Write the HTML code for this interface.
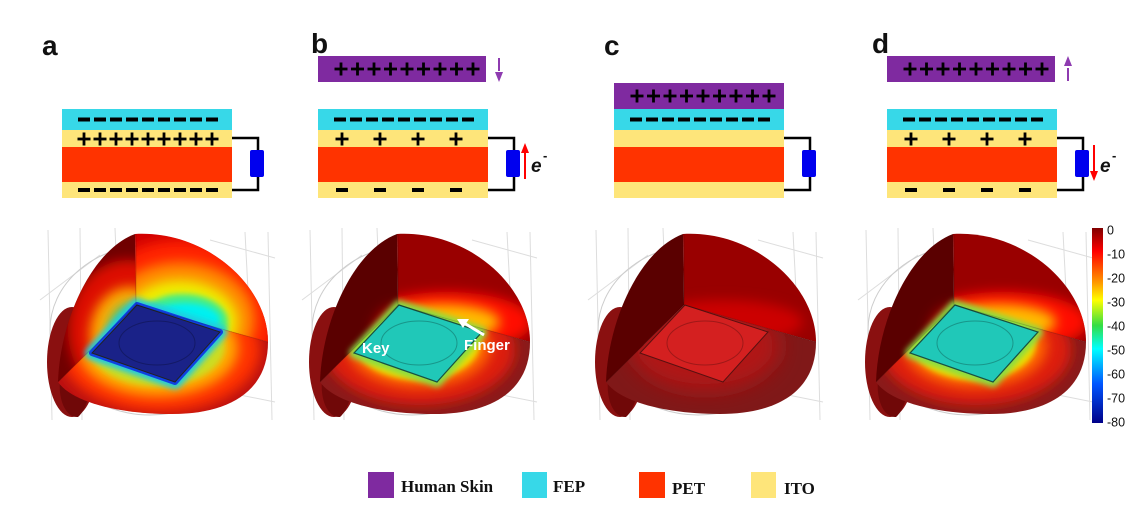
<!DOCTYPE html>
<html><head><meta charset="utf-8">
<style>
html,body{margin:0;padding:0;background:#fff;}
svg{display:block;}
.lbl{font-family:"Liberation Sans",Arial,sans-serif;font-weight:bold;font-size:28px;fill:#111;}
.leg{font-family:"Liberation Serif",serif;font-weight:bold;font-size:17px;fill:#111;}
.cb{font-family:"Liberation Sans",sans-serif;font-size:12.5px;fill:#111;}
</style></head>
<body>
<svg id="fig" width="1147" height="515" viewBox="0 0 1147 515" xmlns="http://www.w3.org/2000/svg">
<defs>
  <filter id="b3" x="-50%" y="-50%" width="200%" height="200%"><feGaussianBlur stdDeviation="3"/></filter>
  <filter id="b6" x="-50%" y="-50%" width="200%" height="200%"><feGaussianBlur stdDeviation="6"/></filter>
  <filter id="b10" x="-50%" y="-50%" width="200%" height="200%"><feGaussianBlur stdDeviation="10"/></filter>
  <clipPath id="cpLeft" clipPathUnits="userSpaceOnUse"><path d="M135,234 L136,305 L58,382 C60,320 92,250 135,234 Z"/></clipPath>
  <clipPath id="cpRight" clipPathUnits="userSpaceOnUse"><path d="M135,234 C205,230 268,285 268,342 L136,305 Z"/></clipPath>
  <clipPath id="cpBottom" clipPathUnits="userSpaceOnUse"><path d="M136,305 L268,342 C268,392 228,414 172,414 C118,414 72,402 58,382 Z"/></clipPath>
  <linearGradient id="jet" x1="0" y1="0" x2="0" y2="1">
    <stop offset="0" stop-color="#800000"/><stop offset="0.12" stop-color="#ff0000"/>
    <stop offset="0.28" stop-color="#ff9900"/><stop offset="0.37" stop-color="#ffff00"/>
    <stop offset="0.5" stop-color="#33dd44"/><stop offset="0.62" stop-color="#00ffff"/>
    <stop offset="0.8" stop-color="#0055ff"/><stop offset="1" stop-color="#000088"/>
  </linearGradient>
</defs>

<g>
  <text class="lbl" x="42" y="55">a</text>
  <text class="lbl" x="311" y="53">b</text>
  <text class="lbl" x="604" y="55">c</text>
  <text class="lbl" x="872" y="53">d</text>
</g>

<g id="diagrams"></g>
<g id="domes"></g>

<g>
  <text x="362" y="353" font-family="Liberation Sans,sans-serif" font-weight="bold" font-size="15" fill="#fff">Key</text>
  <text x="464" y="350" font-family="Liberation Sans,sans-serif" font-weight="bold" font-size="15" fill="#fff">Finger</text>
  <line x1="484" y1="335" x2="464" y2="323" stroke="#fff" stroke-width="3"/>
  <polygon points="457,319 469,319 463,328" fill="#fff"/>
</g>

<g>
  <rect x="1092" y="228" width="11" height="195" fill="url(#jet)"/>
  <g id="cbticks"></g>
</g>

<g>
  <rect x="368" y="472" width="26" height="26" fill="#7f2aa0"/>
  <text class="leg" x="401" y="492">Human Skin</text>
  <rect x="522" y="472" width="25" height="26" fill="#37d8e8"/>
  <text class="leg" x="553" y="492">FEP</text>
  <rect x="639" y="472" width="26" height="26" fill="#ff3300"/>
  <text class="leg" x="672" y="494">PET</text>
  <rect x="751" y="472" width="25" height="26" fill="#fee57a"/>
  <text class="leg" x="784" y="494">ITO</text>
</g>
</svg>
<script>
const cbTicks = ["0","-10","-20","-30","-40","-50","-60","-70","-80"];
const NS="http://www.w3.org/2000/svg";
function mk(tag, attrs, parent){const e=document.createElementNS(NS,tag);for(const k in attrs)e.setAttribute(k,attrs[k]);parent.appendChild(e);return e;}

const cbg=document.getElementById('cbticks');
cbTicks.forEach((t,i)=>{
  const y=230+i*(192/8);
  const tx=mk('text',{x:1107,y:y+4.5,class:'cb'},cbg);
  
  
  tx.textContent=t;
});

const dg=document.getElementById('diagrams');
function plus(g,cx,cy,s){
  const a=mk('rect',{x:cx-s/2,y:cy-1.4,width:s,height:2.8,fill:'#000'},g);
  
  
  const b=mk('rect',{x:cx-1.4,y:cy-s/2,width:2.8,height:s,fill:'#000'},g);
  
  
}
function minus(g,cx,cy,w){
  const a=mk('rect',{x:cx-w/2,y:cy-2,width:w,height:4,fill:'#000'},g);
  
  
}
function device(x0, opts){
  const g=mk('g',{},dg);
  
  
  const w=170;
  const layers=[[109,130,'#37d8e8','fep-layer'],[130,147,'#fee57a','ito-top-layer'],[147,182,'#ff3300','pet-layer'],[182,198,'#fee57a','ito-bottom-layer']];
  layers.forEach(L=>{const r=mk('rect',{x:x0,y:L[0],width:w,height:L[1]-L[0],fill:L[2]},g);
    
    });
  const wr=mk('path',{d:`M${x0+w},138 H${x0+196} V190 H${x0+w}`,fill:'none',stroke:'#000','stroke-width':2.5},g);
  
  
  const rs=mk('rect',{x:x0+188,y:150,width:14,height:27,rx:2,fill:'#0000ee'},g);
  
  
  for(let i=0;i<9;i++) minus(g,x0+22+i*16,119.5,12);
  if(opts.full){ for(let i=0;i<9;i++){plus(g,x0+22+i*16,139,13);minus(g,x0+22+i*16,190,12);} }
  if(opts.half){ [24,62,100,138].forEach(d=>{plus(g,x0+d,139,13);minus(g,x0+d,190,12);}); }
  if(opts.skinY!==undefined){
    const sk=mk('rect',{x:x0,y:opts.skinY,width:opts.skinW||168,height:26,fill:'#7f2aa0'},g);
    
    
    for(let i=0;i<9;i++) plus(g,x0+23+i*16.5,opts.skinY+13,13);
  }
  if(opts.move){
    const ax=x0+181, up=opts.move==='up';
    const ln=mk('line',{x1:ax,y1:up?68:58,x2:ax,y2:up?81:71,stroke:'#8e3bb0','stroke-width':2},g);
    
    
    const hd=mk('polygon',{points:up?`${ax-4},66 ${ax+4},66 ${ax},56`:`${ax-4},72 ${ax+4},72 ${ax},82`,fill:'#8e3bb0'},g);
    
    
  }
  if(opts.e){
    const ax=x0+207, up=opts.e==='up';
    const ln=mk('line',{x1:ax,y1:up?152:145,x2:ax,y2:up?179:172,stroke:'#ff0000','stroke-width':2},g);
    
    
    const hd=mk('polygon',{points:up?`${ax-4},153 ${ax+4},153 ${ax},143`:`${ax-4},171 ${ax+4},171 ${ax},181`,fill:'#ff0000'},g);
    
    
    const t=mk('text',{x:x0+213,y:172,'font-family':'Liberation Sans,sans-serif','font-weight':'bold','font-style':'italic','font-size':19,fill:'#111'},g);
    
    
    t.textContent='e';
    const s=mk('text',{x:x0+225,y:160,'font-family':'Liberation Sans,sans-serif','font-weight':'bold','font-size':13,fill:'#111'},g);
    
    
    s.textContent='-';
  }
}
device(62,{name:'a',full:true});
device(318,{name:'b',half:true,skinY:56,move:'down',e:'up'});
device(614,{name:'c',skinY:83,skinW:170});
device(887,{name:'d',half:true,skinY:56,move:'up',e:'down'});

const dm=document.getElementById('domes');
const keyPts="137,305 220,332 175,382 92,353";
function dome(dx,type){
  let s='';
  s+=`<g stroke="#ddd" stroke-width="1" fill="none">
  <line x1="48" y1="230" x2="52" y2="420"/><line x1="80" y1="228" x2="82" y2="420"/><line x1="115" y1="228" x2="118" y2="300"/><line x1="245" y1="232" x2="250" y2="330"/><line x1="268" y1="232" x2="272" y2="420"/>
  <line x1="40" y1="300" x2="100" y2="255"/><line x1="210" y1="240" x2="275" y2="258"/><line x1="240" y1="395" x2="275" y2="402"/>
  <ellipse cx="150" cy="330" rx="100" ry="85" stroke="#ccc"/></g>`;
  s+=`<ellipse cx="72" cy="362" rx="25" ry="55" fill="#8a1010"/>`;
  s+=`<path d="M60,380 C58,400 66,418 78,417 C86,410 90,395 88,385 Z" fill="#700808"/>`;
  s+=`<g clip-path="url(#cpRight)">`;
  if(type==='a'){
    s+=`<rect x="60" y="220" width="220" height="130" fill="#d00000"/>
    <ellipse cx="180" cy="320" rx="95" ry="80" fill="#ff2200" filter="url(#b6)"/>
    <ellipse cx="180" cy="320" rx="75" ry="58" fill="#ff8800" filter="url(#b6)"/>
    <ellipse cx="180" cy="322" rx="58" ry="42" fill="#eeee00" filter="url(#b6)"/>
    <ellipse cx="183" cy="322" rx="45" ry="28" fill="#44ee88" filter="url(#b3)"/>
    <ellipse cx="185" cy="320" rx="35" ry="17" fill="#00f0f0" filter="url(#b3)"/>`;
  } else if(type==='c'){
    s+=`<rect x="60" y="220" width="220" height="130" fill="#990000"/>
    <ellipse cx="175" cy="322" rx="80" ry="22" fill="#cc0000" filter="url(#b6)"/>`;
  } else {
    s+=`<rect x="60" y="220" width="220" height="130" fill="#990000"/>
    <ellipse cx="185" cy="322" rx="85" ry="30" fill="#ff1100" filter="url(#b6)"/>
    <ellipse cx="180" cy="322" rx="58" ry="18" fill="#ffbb00" filter="url(#b6)"/>`;
  }
  s+=`</g>`;
  s+=`<g clip-path="url(#cpLeft)">`;
  if(type==='a'){
    s+=`<rect x="50" y="220" width="100" height="170" fill="#700000"/>
    <ellipse cx="128" cy="330" rx="60" ry="70" fill="#dd1100" filter="url(#b6)"/>
    <ellipse cx="130" cy="335" rx="40" ry="48" fill="#ffaa00" filter="url(#b6)"/>
    <ellipse cx="132" cy="338" rx="25" ry="35" fill="#33cc88" filter="url(#b6)"/>`;
  } else {
    s+=`<rect x="50" y="220" width="100" height="170" fill="#5a0000"/>`;
    if(type!=='c') s+=`<ellipse cx="135" cy="335" rx="25" ry="30" fill="#aa0000" filter="url(#b6)"/>`;
  }
  s+=`</g>`;
  s+=`<g clip-path="url(#cpBottom)">`;
  if(type==='a'){
    s+=`<rect x="50" y="290" width="230" height="130" fill="#bb1010"/>
    <ellipse cx="160" cy="350" rx="100" ry="62" fill="#ff3300" filter="url(#b6)"/>
    <ellipse cx="158" cy="348" rx="80" ry="48" fill="#ffaa00" filter="url(#b6)"/>
    <ellipse cx="157" cy="346" rx="68" ry="40" fill="#ccdd22" filter="url(#b3)"/>`;
  } else if(type==='c'){
    s+=`<rect x="50" y="290" width="230" height="130" fill="#801818"/>
    <ellipse cx="157" cy="346" rx="75" ry="45" fill="#b01818" filter="url(#b10)"/>`;
  } else {
    s+=`<rect x="50" y="290" width="230" height="130" fill="#8a1a1a"/>
    <ellipse cx="158" cy="350" rx="95" ry="55" fill="#dd1a10" filter="url(#b6)"/>
    <ellipse cx="157" cy="346" rx="72" ry="42" fill="#ff6600" filter="url(#b6)"/>
    <ellipse cx="156" cy="344" rx="62" ry="36" fill="#eedd00" filter="url(#b3)"/>`;
  }
  s+=`</g>`;
  if(type==='a'){
    s+=`<polygon points="${keyPts}" fill="#22ccdd" stroke="#22ccdd" stroke-width="14" stroke-linejoin="round" filter="url(#b3)"/>
    <polygon points="${keyPts}" fill="#1040e0" stroke="#1040e0" stroke-width="6" stroke-linejoin="round"/>
    <polygon points="${keyPts}" fill="#1a2288" stroke="#222" stroke-width="1"/>`;
  } else if(type==='c'){
    s+=`<polygon points="${keyPts}" fill="#d42020" stroke="#5a1010" stroke-width="1"/>`;
  } else {
    s+=`<polygon points="${keyPts}" fill="#88dd44" stroke="#88dd44" stroke-width="10" stroke-linejoin="round" filter="url(#b3)"/>
    <polygon points="${keyPts}" fill="#20c8b8" stroke="#1a5040" stroke-width="1.2"/>`;
  }
  s+=`<ellipse cx="157" cy="343" rx="38" ry="22" fill="none" stroke="rgba(0,0,0,0.25)" stroke-width="1"/>`;
  s+=`<path d="M136,305 L136,234 M136,305 L268,342 M136,305 L58,382" stroke="rgba(0,0,0,0.15)" stroke-width="1" fill="none"/>`;
  const g=mk('g',{transform:`translate(${dx},0)`},dm);
  
  
  g.innerHTML=s;
}
dome(0,'a');
dome(262,'b');
dome(548,'c');
dome(818,'d');
</script>
</body></html>
